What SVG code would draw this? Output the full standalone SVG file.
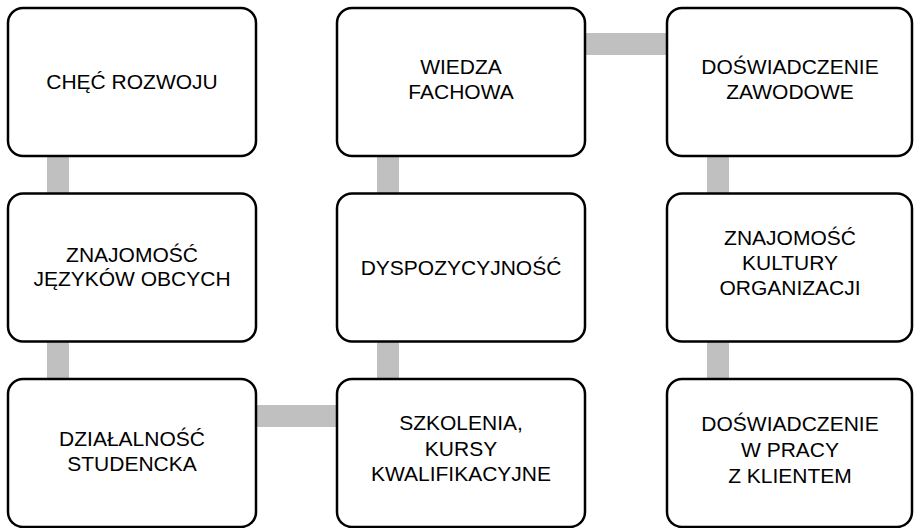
<svg xmlns="http://www.w3.org/2000/svg" width="914" height="528" viewBox="0 0 914 528">
<style>
.box{fill:#fff;stroke:#000;stroke-width:2.5}
.con{fill:#c0c0c0}
text{font-family:"Liberation Sans",Arial,sans-serif;font-size:21px;fill:#000;text-anchor:middle}
</style>
<rect width="914" height="528" fill="#fff"/>
<g id="connectors">
<rect class="con" x="47" y="150" width="22" height="50"/>
<rect class="con" x="47" y="336" width="22" height="50"/>
<rect class="con" x="377" y="150" width="22" height="50"/>
<rect class="con" x="377" y="336" width="22" height="50"/>
<rect class="con" x="707" y="150" width="22" height="50"/>
<rect class="con" x="707" y="336" width="22" height="50"/>
<rect class="con" x="580" y="33" width="92" height="22"/>
<rect class="con" x="250" y="405" width="92" height="22"/>
</g>
<g id="n1"><rect class="box" x="8" y="8" width="248" height="148" rx="15"/><text x="132" y="89">CHĘĆ ROZWOJU</text></g>
<g id="n2"><rect class="box" x="8" y="193.5" width="248" height="148" rx="15"/><text x="132" y="262">ZNAJOMOŚĆ</text><text x="132" y="286">JĘZYKÓW OBCYCH</text></g>
<g id="n3"><rect class="box" x="8" y="379" width="248" height="148" rx="15"/><text x="132" y="446">DZIAŁALNOŚĆ</text><text x="132" y="471">STUDENCKA</text></g>
<g id="n4"><rect class="box" x="337" y="379" width="248" height="148" rx="15"/><text x="461" y="430">SZKOLENIA,</text><text x="461" y="455.5">KURSY</text><text x="461" y="481">KWALIFIKACYJNE</text></g>
<g id="n5"><rect class="box" x="337" y="193.5" width="248" height="148" rx="15"/><text x="461" y="275">DYSPOZYCYJNOŚĆ</text></g>
<g id="n6"><rect class="box" x="337" y="8" width="248" height="148" rx="15"/><text x="461" y="74">WIEDZA</text><text x="461" y="99">FACHOWA</text></g>
<g id="n7"><rect class="box" x="667" y="8" width="245" height="148" rx="15"/><text x="790" y="74">DOŚWIADCZENIE</text><text x="790" y="99">ZAWODOWE</text></g>
<g id="n8"><rect class="box" x="667" y="193.5" width="245" height="148" rx="15"/><text x="790" y="245">ZNAJOMOŚĆ</text><text x="790" y="270">KULTURY</text><text x="790" y="295">ORGANIZACJI</text></g>
<g id="n9"><rect class="box" x="667" y="379" width="245" height="148" rx="15"/><text x="790" y="431">DOŚWIADCZENIE</text><text x="790" y="457">W PRACY</text><text x="790" y="483">Z KLIENTEM</text></g>
</svg>
